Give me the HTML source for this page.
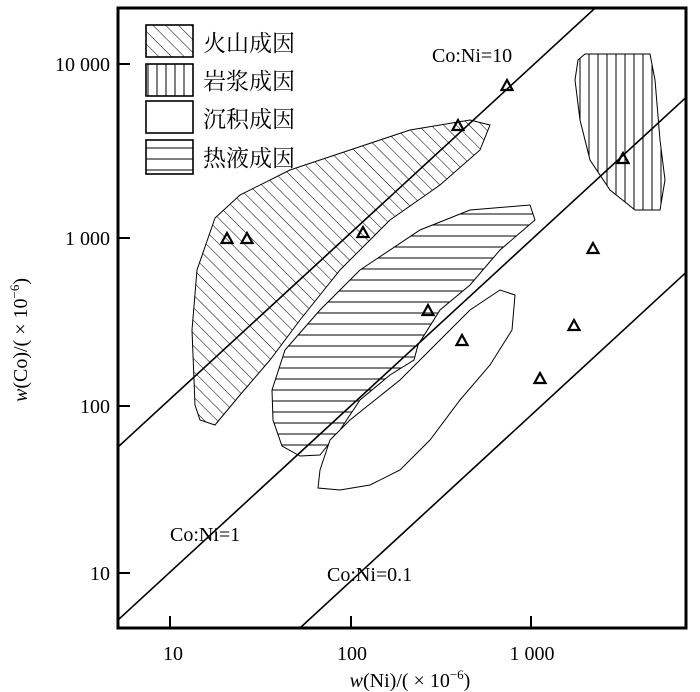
<!DOCTYPE html>
<html><head><meta charset="utf-8"><style>html,body{margin:0;background:#fff;overflow:hidden;width:700px;height:692px}svg{display:block}</style></head><body>
<svg width="700" height="692" viewBox="0 0 700 692" xmlns="http://www.w3.org/2000/svg" font-family="Liberation Serif, Noto Serif CJK SC, serif">
<defs>
<pattern id="diag" width="9" height="9" patternUnits="userSpaceOnUse" patternTransform="rotate(-45)"><line x1="0" y1="0" x2="0" y2="9" stroke="#000" stroke-width="1"/></pattern>
<pattern id="vert" width="9" height="9" patternUnits="userSpaceOnUse"><line x1="4" y1="0" x2="4" y2="9" stroke="#000" stroke-width="1"/></pattern>
<pattern id="horz" width="9" height="11" patternUnits="userSpaceOnUse"><line x1="0" y1="5" x2="9" y2="5" stroke="#000" stroke-width="1"/></pattern>
<clipPath id="c"><rect x="118" y="8" width="568" height="620"/></clipPath>
</defs>
<g clip-path="url(#c)" stroke="#000" stroke-width="1.6">
<line x1="118" y1="447" x2="718" y2="-105"/>
<line x1="118" y1="620" x2="718" y2="68"/>
<line x1="300" y1="628" x2="718" y2="243"/>
</g>
<g stroke="#000" stroke-width="1">
<polygon fill="url(#diag)" points="195,405 192,330 197,270 215,218 240,195 290,170 350,150 410,130 470,120 490,125 480,150 440,185 390,220 340,270 300,320 270,360 240,395 215,425 200,420"/>
<polygon fill="url(#horz)" points="272,390 285,350 320,310 360,270 420,230 470,210 530,205 535,220 500,250 470,285 440,310 418,345 414,360 390,375 360,400 340,430 320,455 300,456 282,446 273,420"/>
<polygon fill="#fff" points="320,470 330,440 350,420 400,380 440,340 470,310 500,290 515,295 512,330 490,365 460,400 430,440 400,470 370,485 340,490 318,488"/>
<polygon fill="url(#vert)" points="578,60 585,54 650,54 655,80 660,140 665,180 660,210 635,210 610,190 590,160 580,120 575,80"/>
</g>
<g fill="none" stroke="#000" stroke-width="2.2">
<path d="M0,-6 L5.5,4 L-5.5,4 Z" transform="translate(227,239)"/>
<path d="M0,-6 L5.5,4 L-5.5,4 Z" transform="translate(247,239)"/>
<path d="M0,-6 L5.5,4 L-5.5,4 Z" transform="translate(363,233)"/>
<path d="M0,-6 L5.5,4 L-5.5,4 Z" transform="translate(428,311)"/>
<path d="M0,-6 L5.5,4 L-5.5,4 Z" transform="translate(462,341)"/>
<path d="M0,-6 L5.5,4 L-5.5,4 Z" transform="translate(458,126)"/>
<path d="M0,-6 L5.5,4 L-5.5,4 Z" transform="translate(507,86)"/>
<path d="M0,-6 L5.5,4 L-5.5,4 Z" transform="translate(540,379)"/>
<path d="M0,-6 L5.5,4 L-5.5,4 Z" transform="translate(574,326)"/>
<path d="M0,-6 L5.5,4 L-5.5,4 Z" transform="translate(593,249)"/>
<path d="M0,-6 L5.5,4 L-5.5,4 Z" transform="translate(623,159)"/>
</g>
<rect x="118" y="8" width="568" height="620" fill="none" stroke="#000" stroke-width="3"/>
<g stroke="#000" stroke-width="2">
<line x1="118" y1="64" x2="130" y2="64"/><line x1="118" y1="238" x2="130" y2="238"/><line x1="118" y1="406" x2="130" y2="406"/><line x1="118" y1="573" x2="130" y2="573"/>
<line x1="170" y1="628" x2="170" y2="616"/><line x1="351" y1="628" x2="351" y2="616"/><line x1="531" y1="628" x2="531" y2="616"/>
</g>
<g font-size="20" fill="#000">
<text x="110" y="71" text-anchor="end">10 000</text>
<text x="110" y="245" text-anchor="end">1 000</text>
<text x="110" y="413" text-anchor="end">100</text>
<text x="110" y="580" text-anchor="end">10</text>
<text x="173" y="660" text-anchor="middle">10</text>
<text x="352" y="660" text-anchor="middle">100</text>
<text x="532" y="660" text-anchor="middle">1 000</text>
<text x="410" y="687" text-anchor="middle"><tspan font-style="italic">w</tspan>(Ni)/( × 10<tspan font-size="13" dy="-8">−6</tspan><tspan dy="8">)</tspan></text>
<text transform="translate(27,340) rotate(-90)" text-anchor="middle"><tspan font-style="italic">w</tspan>(Co)/( × 10<tspan font-size="13" dy="-8">−6</tspan><tspan dy="8">)</tspan></text>
<text x="432" y="62">Co:Ni=10</text>
<text x="170" y="541">Co:Ni=1</text>
<text x="327" y="581">Co:Ni=0.1</text>
</g>
<g stroke="#000" stroke-width="1.6">
<rect x="146" y="25" width="47" height="32" fill="url(#diag)"/>
<rect x="146" y="64" width="47" height="32" fill="url(#vert)"/>
<rect x="146" y="101" width="47" height="32" fill="#fff"/>
<rect x="146" y="140" width="47" height="34" fill="url(#horz)"/>
</g>
<g font-size="23" fill="#000" font-family="Noto Serif CJK SC, serif">
<text x="203" y="51">火山成因</text>
<text x="203" y="89">岩浆成因</text>
<text x="203" y="127">沉积成因</text>
<text x="203" y="166">热液成因</text>
</g>
</svg>
</body></html>
